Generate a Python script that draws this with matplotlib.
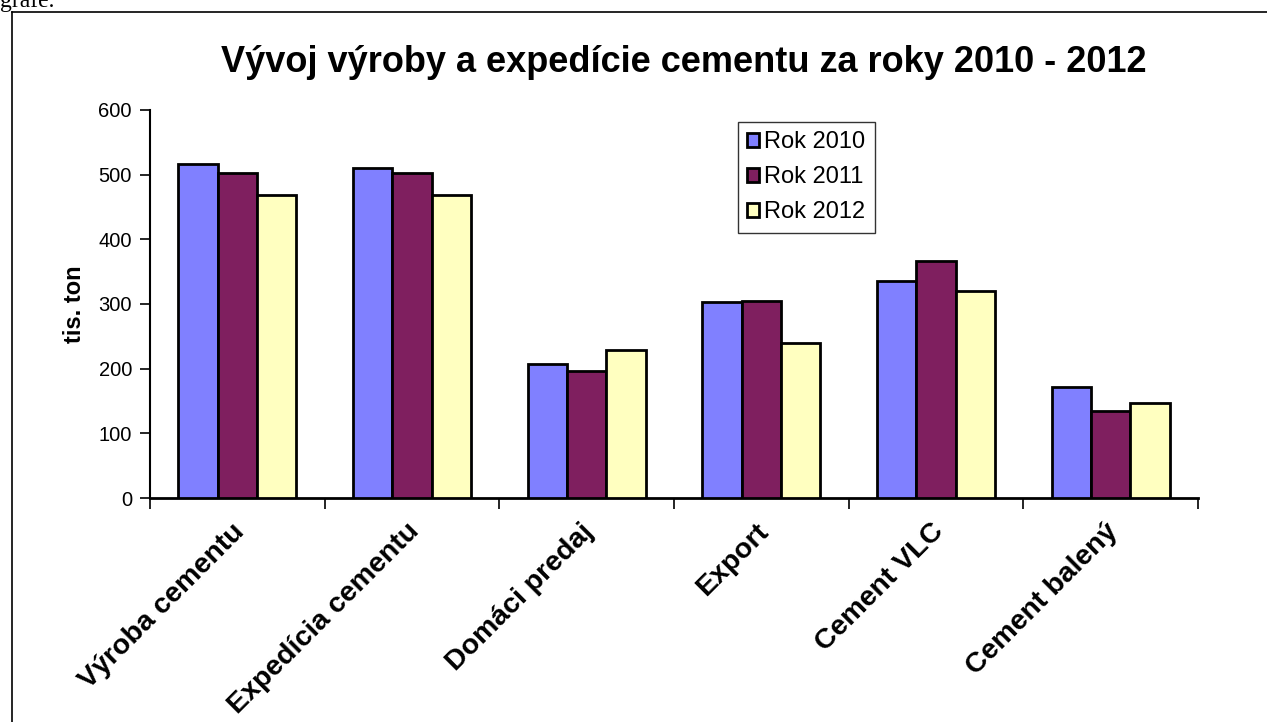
import matplotlib
matplotlib.use("Agg")
import matplotlib.pyplot as plt
import matplotlib.transforms as mtransforms
import numpy as np
from matplotlib.lines import Line2D

categories = ["Výroba cementu", "Expedícia cementu", "Domáci predaj", "Export", "Cement VLC", "Cement balený"]
rok_2010 = [516, 510, 207, 303, 336, 172]
rok_2011 = [502, 502, 196, 305, 366, 135]
rok_2012 = [468, 468, 229, 240, 320, 147]
series_names = ["Rok 2010", "Rok 2011", "Rok 2012"]
colors = ["#8080FF", "#7F1F5F", "#FFFFC0"]
yticks = [0, 100, 200, 300, 400, 500, 600]

plt.rcParams['font.family'] = ['Liberation Sans', 'DejaVu Sans']

W, H = 1267, 722
fig = plt.figure(figsize=(W / 100, H / 100), dpi=100)

def fx(px):
    return px / W

def fy(py):
    return 1 - py / H

ax = fig.add_axes([fx(150), fy(498), fx(1198) - fx(150), fy(110) - fy(498)])

x = np.arange(len(categories))
bw = 0.225
for i, (vals, name, c) in enumerate(zip([rok_2010, rok_2011, rok_2012], series_names, colors)):
    ax.bar(x + (i - 1) * bw, vals, bw, color=c, edgecolor='black', linewidth=2, label=name, zorder=3)

ax.set_xlim(-0.5, len(categories) - 0.5)
ax.set_ylim(0, 600)
ax.set_yticks(yticks)
ax.set_yticklabels([str(v) for v in yticks], fontsize=14.5)
ax.set_xticks(np.arange(-0.5, len(categories), 1.0))
ax.set_xticklabels([])
ax.set_xticks(x, minor=True)
ax.set_xticklabels(categories, minor=True, rotation=45, ha='right', va='top',
                   rotation_mode='anchor', fontsize=20.5, fontweight='bold')
ax.tick_params(axis='x', which='minor', length=0, pad=4)
ax.tick_params(axis='x', which='major', length=8, width=1.2, direction='out')
ax.tick_params(axis='y', length=7, width=1.2, direction='out', pad=6)
offset = mtransforms.ScaledTranslation(-6 / 100, -15 / 100, fig.dpi_scale_trans)
for lbl in ax.get_xticklabels(minor=True):
    lbl.set_transform(lbl.get_transform() + offset)
for s in ['top', 'right']:
    ax.spines[s].set_visible(False)
ax.spines['left'].set_linewidth(1.5)
ax.spines['bottom'].set_linewidth(2)

ax.set_ylabel("tis. ton", fontsize=17, fontweight='bold', labelpad=9)

fig.text(fx(684), fy(63), "Vývoj výroby a expedície cementu za roky 2010 - 2012",
         ha='center', va='center', fontsize=26, fontweight='bold')

handles = [plt.Rectangle((0, 0), 1, 1, facecolor=c, edgecolor='black', linewidth=2) for c in colors]
leg = fig.legend(handles, series_names, loc='upper left',
                 bbox_to_anchor=(fx(738), fy(122)), fontsize=17, frameon=True,
                 fancybox=False, edgecolor='black', handlelength=0.5, handleheight=0.5,
                 handletextpad=0.2, labelspacing=0.55, borderpad=0.4, borderaxespad=0)
leg.get_frame().set_linewidth(1)

# outer frame
fig.add_artist(Line2D([fx(12), 1], [fy(12), fy(12)], color='black', linewidth=1.2))
fig.add_artist(Line2D([fx(12), fx(12)], [fy(12), 0], color='black', linewidth=1.2))
fig.text(0.0, fy(7), "grafe.", family=['Liberation Serif'], fontsize=17, ha='left', va='baseline')

fig.savefig("out.png", dpi=100)
